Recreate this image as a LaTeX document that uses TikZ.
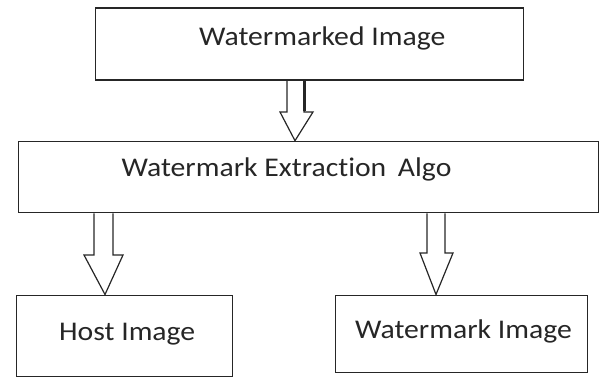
\documentclass[tikz,border=0pt]{standalone}
\usepackage{fontspec}
\setmainfont{Carlito}[Ligatures=NoCommon]
\usetikzlibrary{calc}
\newcommand{\widetext}[1]{\scalebox{1.1}[1]{#1}}
\begin{document}
\begin{tikzpicture}[x=1pt,y=-1pt,
  box/.style={draw=black!85, line width=1.2pt, inner sep=0pt, anchor=north west},
  lbl/.style={font=\fontsize{27}{32}\selectfont, text=black!85, anchor=base west, inner sep=0pt},
  blockarrow/.style={draw=black!85, line width=1.2pt, line join=miter}]
\useasboundingbox (0,0) rectangle (600,378);
\node[box, minimum width=428pt, minimum height=72pt] (wm) at (94.5,7.3) {};
\node[box, minimum width=580pt, minimum height=71.5pt] (ext) at (18,140.7) {};
\node[box, minimum width=216pt, minimum height=81pt] (host) at (16,294.5) {};
\node[box, minimum width=252pt, minimum height=77.5pt] (wmi) at (335,294.5) {};
\node[lbl] (t1) at (199,45) {\widetext{Watermarked Image}};
\node[lbl] (t2) at (121.5,176.5) {\widetext{Watermark Extraction\, Algo}};
\node[lbl] (t3) at (59,340.5) {\widetext{Host Image}};
\node[lbl] (t4) at (355,338) {\widetext{Watermark Image}};
% block arrows
\draw[blockarrow] (287,0 |- wm.south) -- (287,112) -- (280,112) -- (295,0 |- ext.north)
  -- (313,112) -- (304,112) -- (304,0 |- wm.south);
\draw[draw=black!85, line width=2.4pt] (304.6,0 |- wm.south) -- (304.6,111);
\draw[blockarrow] (94,0 |- ext.south) -- (94,255) -- (84,255) -- (105,0 |- host.north)
  -- (123,255) -- (113,255) -- (113,0 |- ext.south);
\draw[blockarrow] (427,0 |- ext.south) -- (427,253) -- (420,253) -- (436,0 |- wmi.north)
  -- (453,253) -- (445,253) -- (445,0 |- ext.south);
\end{tikzpicture}
\end{document}
